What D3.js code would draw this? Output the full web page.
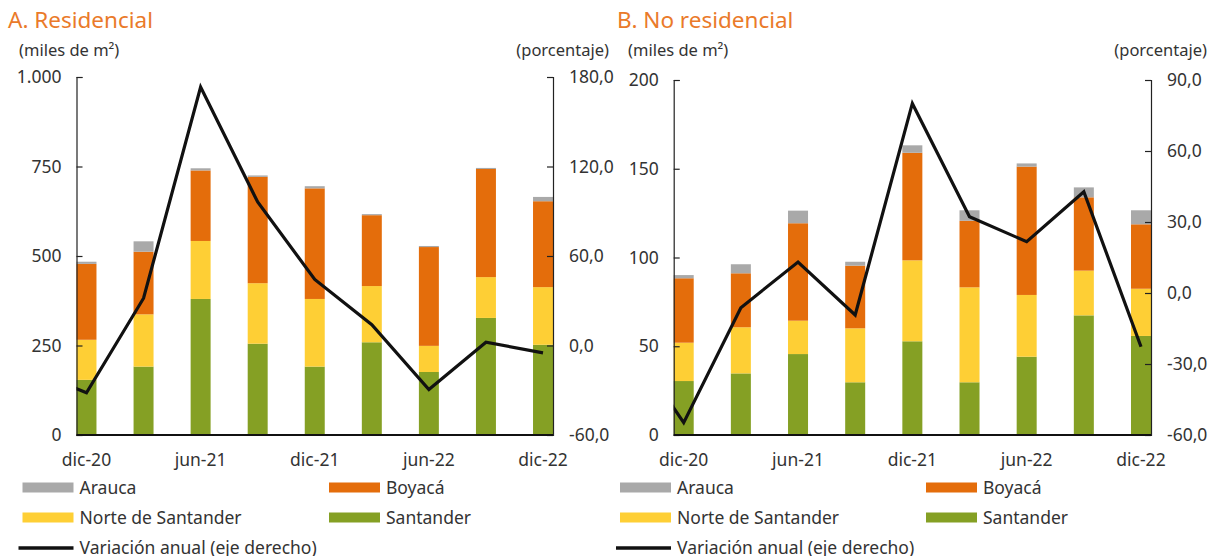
<!DOCTYPE html>
<html>
<head>
  <meta charset="utf-8">
  <title>Área aprobada - Residencial y No residencial</title>
  <script src="https://d3js.org/d3.v7.min.js"></script>
  <style>
    body { margin: 0; background: #fff; }
    svg text { font-family: "Noto Sans", sans-serif; fill: #333; }
    .title { font-size: 22.5px; fill: #ea7a2a; }
    .unit { font-size: 16.5px; }
    .tick-lbl { font-size: 17.5px; }
    .legend text { font-size: 17.5px; }
  </style>
</head>
<body>
<svg id="chart" width="1220" height="556"></svg>
<script>
// trimestres
var periods = ["dic-20", "mar-21", "jun-21", "sep-21", "dic-21", "mar-22", "jun-22", "sep-22", "dic-22"];
var periodLabels = ["dic-20", "jun-21", "dic-21", "jun-22", "dic-22"];
var series = ["Santander", "Norte de Santander", "Boyacá", "Arauca"];
var colors = ["#85a024", "#fecf35", "#e46d0b", "#a9a9a9"];

// A. Residencial (miles de m2)
var resSantander = [154, 191, 380, 255, 191, 259, 176, 327, 252];
var resNorte     = [112, 146, 162, 169, 189, 157, 73, 114, 161];
var resBoyaca    = [212, 175, 197, 297, 309, 198, 276, 302, 240];
var resArauca    = [6, 29, 6, 4, 6, 3, 3, 3, 12];
var resVariacion = [-31.7, 31.7, 173.3, 96.2, 44.3, 13.9, -29.5, 2.2, -4.9];
var resVarPrev = -16; // punto anterior (sep-20), queda fuera del área

// B. No residencial (miles de m2)
var noResSantander = [30.4, 34.7, 45.6, 29.7, 52.8, 29.7, 44.1, 67.4, 55.8];
var noResNorte     = [21.6, 26.0, 18.8, 30.4, 45.6, 53.5, 34.8, 25.2, 26.6];
var noResBoyaca    = [36.3, 30.4, 54.9, 35.3, 60.6, 37.5, 72.3, 41.3, 36.3];
var noResArauca    = [1.8, 5.1, 7.1, 2.2, 4.2, 5.9, 1.8, 5.6, 7.9];
var noResVariacion = [-54.8, -6.2, 13.1, -9.3, 80.1, 32.2, 21.7, 42.8, -22.7];
var noResVarPrev = -19;

var leftTicksRes = [0, 250, 500, 750, 1000];
var rightTicksRes = [-60, 0, 60, 120, 180];
var leftTicksNoRes = [0, 50, 100, 150, 200];
var rightTicksNoRes = [-60, -30, 0, 30, 60, 90];

var svg = d3.select("#chart");
var loc = d3.formatLocale({decimal: ",", thousands: ".", grouping: [3], currency: ["$", ""], minus: "-"});
var fmtInt = loc.format(",d");
var fmtPct = loc.format(".1f");

function drawPanel(p) {
  var g = svg.append("g");
  var x = d3.scaleBand().domain(periods).range([p.x0, p.x1]).paddingInner(0.65).paddingOuter(0);
  var y = d3.scaleLinear().domain([0, p.leftTicks[p.leftTicks.length - 1]]).range([435, p.top]);
  var y2 = d3.scaleLinear().domain([p.rightTicks[0], p.rightTicks[p.rightTicks.length - 1]]).range([435, p.top]);

  // titulo y unidades
  g.append("text").attr("class", "title").attr("x", p.titleX).attr("y", 28).text(p.title);
  g.append("text").attr("class", "unit").attr("x", p.titleX + 11).attr("y", 56).text("(miles de m²)");
  g.append("text").attr("class", "unit").attr("x", p.x1 + 56).attr("y", 56)
    .attr("text-anchor", "end").text("(porcentaje)");

  // barras apiladas
  var rows = periods.map(function(d, i) {
    var r = {period: d};
    series.forEach(function(s, k) { r[s] = p.values[k][i]; });
    return r;
  });
  var stacked = d3.stack().keys(series)(rows);
  g.selectAll("g.layer").data(stacked).enter().append("g")
    .attr("fill", function(d, k) { return colors[k]; })
    .selectAll("rect").data(function(d) { return d; }).enter().append("rect")
    .attr("x", function(d) { return x(d.data.period); })
    .attr("width", x.bandwidth())
    .attr("y", function(d) { return y(d[1]); })
    .attr("height", function(d) { return y(d[0]) - y(d[1]); });

  // ejes
  var leftAxis = d3.axisRight(y).tickValues(p.leftTicks).tickSize(6).tickFormat("");
  var ga = g.append("g").attr("transform", "translate(" + p.x0 + ",0)").call(leftAxis);
  var rightAxis = d3.axisLeft(y2).tickValues(p.rightTicks).tickSize(6).tickFormat("");
  var gb = g.append("g").attr("transform", "translate(" + p.x1 + ",0)").call(rightAxis);
  [ga, gb].forEach(function(a) {
    a.select(".domain").attr("stroke", "#222").attr("stroke-width", 1.2);
    a.selectAll(".tick line").attr("stroke", "#222").attr("stroke-width", 1.2);
  });

  g.selectAll("text.yl").data(p.leftTicks).enter().append("text")
    .attr("class", "tick-lbl").attr("x", p.x0 - 15).attr("y", function(d) { return y(d); })
    .attr("dy", "0.35em").attr("text-anchor", "end").text(function(d) { return fmtInt(d); });
  g.selectAll("text.yr").data(p.rightTicks).enter().append("text")
    .attr("class", "tick-lbl").attr("x", p.x1 + 16).attr("y", function(d) { return y2(d); })
    .attr("dy", "0.35em").text(function(d) { return fmtPct(d); });

  g.selectAll("text.xl").data(periodLabels).enter().append("text")
    .attr("class", "tick-lbl").attr("x", function(d) { return x(d) + x.bandwidth() / 2; })
    .attr("y", 466).attr("text-anchor", "middle").text(function(d) { return d; });

  // linea variacion anual
  var clipId = "clip" + p.id;
  svg.append("clipPath").attr("id", clipId).append("rect")
    .attr("x", p.x0).attr("y", 0).attr("width", p.x1 - p.x0).attr("height", 556);
  var pts = [[x(periods[0]) + x.bandwidth() / 2 - x.step(), y2(p.prev)]].concat(
    p.variacion.map(function(v, i) { return [x(periods[i]) + x.bandwidth() / 2, y2(v)]; }));
  g.append("path").datum(pts)
    .attr("clip-path", "url(#" + clipId + ")")
    .attr("fill", "none").attr("stroke", "#111").attr("stroke-width", 3.2)
    .attr("stroke-linejoin", "miter")
    .attr("d", d3.line());

  g.append("line").attr("x1", p.x0).attr("x2", p.x1).attr("y1", 435).attr("y2", 435)
    .attr("stroke", "#111").attr("stroke-width", 2);

  // leyenda
  var lg = g.append("g").attr("class", "legend");
  var items = [
    {name: "Arauca", color: colors[3], col: 0, row: 0},
    {name: "Boyacá", color: colors[2], col: 1, row: 0},
    {name: "Norte de Santander", color: colors[1], col: 0, row: 1},
    {name: "Santander", color: colors[0], col: 1, row: 1}
  ];
  var rowY = [487.5, 517.5, 548];
  items.forEach(function(it) {
    var sx = p.legX[it.col];
    lg.append("rect").attr("x", sx).attr("y", rowY[it.row] - 5).attr("width", 51).attr("height", 10)
      .attr("fill", it.color);
    lg.append("text").attr("x", sx + 57).attr("y", rowY[it.row]).attr("dy", "0.35em").text(it.name);
  });
  lg.append("line").attr("x1", p.legX[0] - 4).attr("x2", p.legX[0] + 51)
    .attr("y1", rowY[2]).attr("y2", rowY[2]).attr("stroke", "#111").attr("stroke-width", 3.5);
  lg.append("text").attr("x", p.legX[0] + 57).attr("y", rowY[2]).attr("dy", "0.35em")
    .text("Variación anual (eje derecho)");
}

drawPanel({
  id: "a", title: "A. Residencial", titleX: 8, x0: 76.5, x1: 553, top: 77,
  leftTicks: leftTicksRes, rightTicks: rightTicksRes,
  values: [resSantander, resNorte, resBoyaca, resArauca],
  variacion: resVariacion, prev: resVarPrev,
  legX: [22.5, 329]
});
drawPanel({
  id: "b", title: "B. No residencial", titleX: 617, x0: 673.7, x1: 1151, top: 80,
  leftTicks: leftTicksNoRes, rightTicks: rightTicksNoRes,
  values: [noResSantander, noResNorte, noResBoyaca, noResArauca],
  variacion: noResVariacion, prev: noResVarPrev,
  legX: [620, 926]
});
</script>
</body>
</html>
